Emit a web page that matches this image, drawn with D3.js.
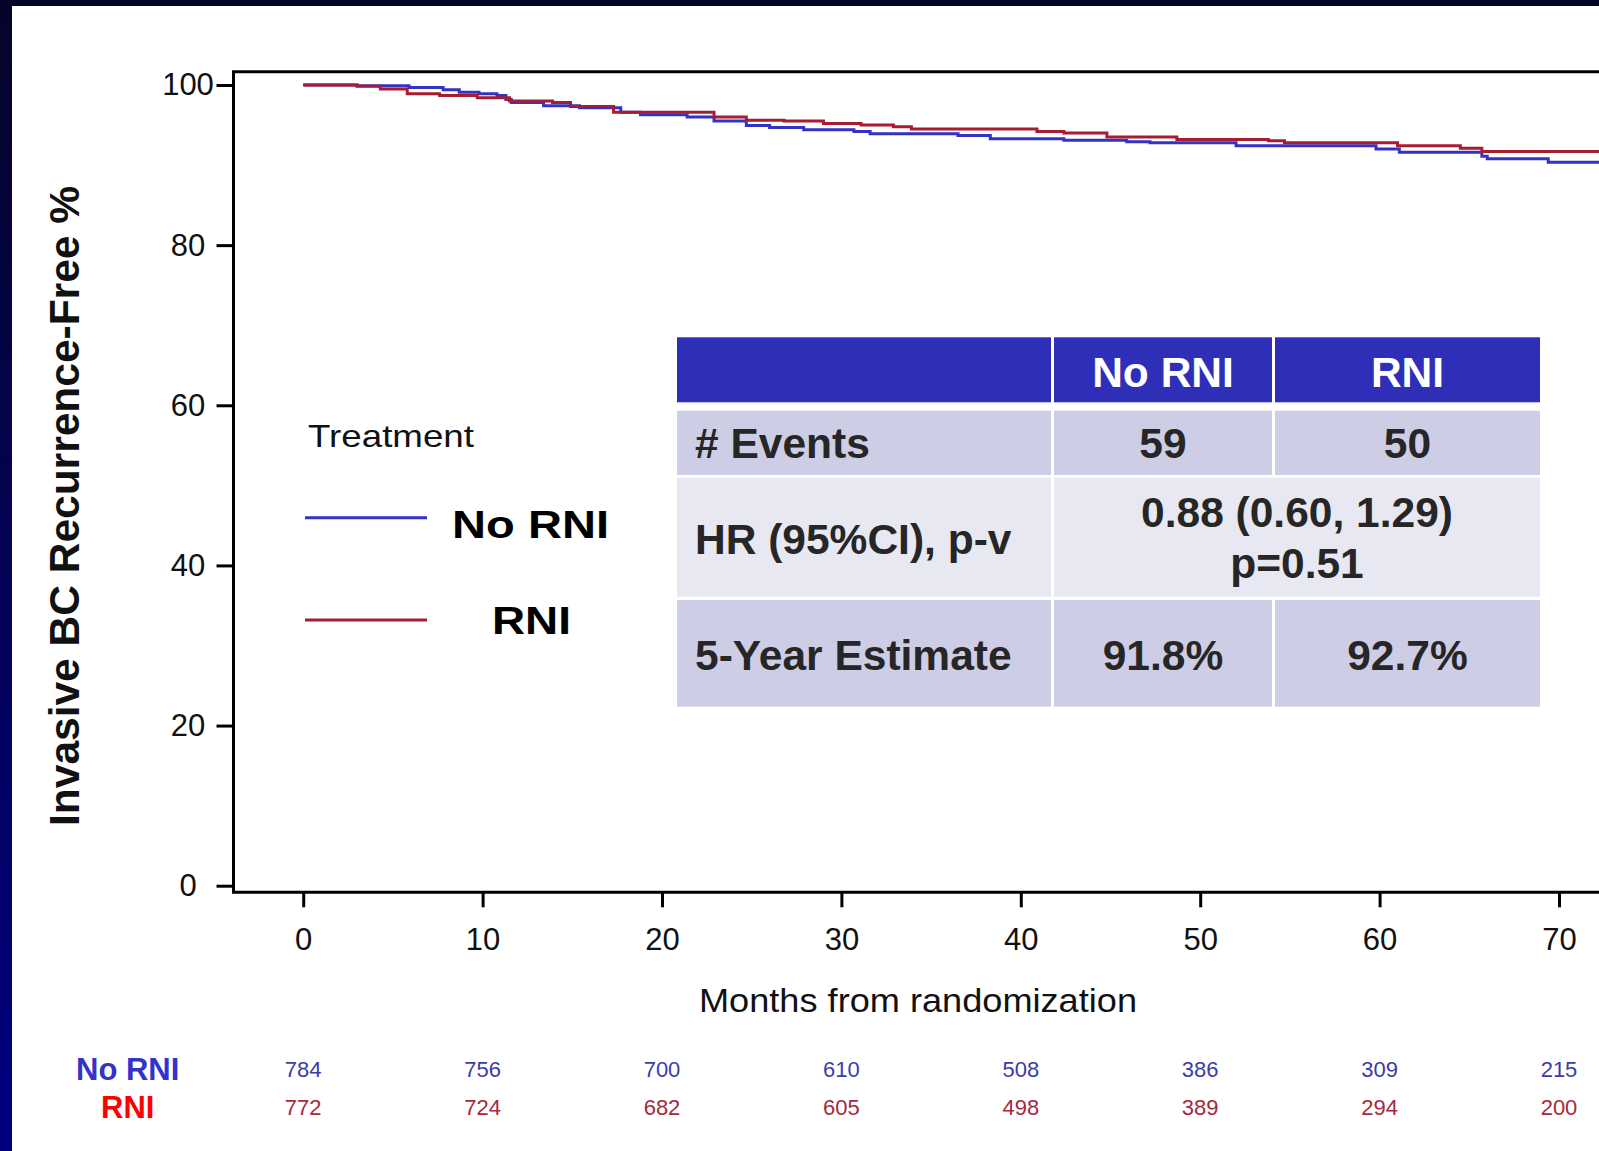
<!DOCTYPE html>
<html>
<head>
<meta charset="utf-8">
<script src="https://cdn.jsdelivr.net/npm/d3@7"></script>
<style>
  body { margin: 0; overflow: hidden; background: #fff; }
  text { font-family: "Liberation Sans", Arial, sans-serif; }
</style>
</head>
<body>
<div id="chart"></div>
<script>
// Kaplan-Meier steps (months, percent)
const monthsNoRni = [0, 3.0, 5.9, 7.8, 8.7, 9.8, 10.8, 11.3, 11.6, 13.4, 15.4, 17.7, 18.8, 21.4, 22.9, 24.7, 26.0, 27.9, 30.7, 31.6, 36.5, 38.3, 42.4, 45.9, 47.2, 52.0, 59.8, 61.1, 65.7, 66.0, 69.4];
const survNoRni   = [100, 99.9, 99.7, 99.4, 99.1, 98.9, 98.7, 98.2, 97.8, 97.4, 97.15, 96.6, 96.3, 96.0, 95.5, 94.95, 94.7, 94.4, 94.2, 93.9, 93.7, 93.3, 93.1, 92.9, 92.8, 92.4, 92.0, 91.6, 91.1, 90.8, 90.35];

const monthsRni = [0, 3.0, 4.3, 5.8, 7.6, 9.7, 11.5, 13.9, 14.9, 17.3, 22.9, 24.7, 26.8, 29.0, 31.1, 32.9, 33.9, 40.9, 42.4, 44.8, 48.7, 53.8, 54.7, 61.0, 64.5, 65.7];
const survRni   = [100, 99.83, 99.5, 98.9, 98.7, 98.4, 98.0, 97.8, 97.3, 96.6, 96.0, 95.6, 95.5, 95.2, 95.0, 94.8, 94.5, 94.2, 94.0, 93.5, 93.2, 93.05, 92.8, 92.4, 92.1, 91.7];

const xTicks = [0, 10, 20, 30, 40, 50, 60, 70];
const yTicks = [0, 20, 40, 60, 80, 100];
const lastMonth = 73;

const riskMonths = [0, 10, 20, 30, 40, 50, 60, 70];
const atRiskNoRni = [784, 756, 700, 610, 508, 386, 309, 215];
const atRiskRni = [772, 724, 682, 605, 498, 389, 294, 200];

const groups = ['No RNI', 'RNI'];
const tableHeader = ['', 'No RNI', 'RNI'];
const tableEvents = ['# Events', '59', '50'];
const tableHr = ['HR (95%CI), p-v', '0.88 (0.60, 1.29)', 'p=0.51'];
const tableEstimate = ['5-Year Estimate', '91.8%', '92.7%'];

const blue = '#3232c4';
const red = '#a81c32';

const svg = d3.select('#chart').append('svg')
  .attr('width', 1599)
  .attr('height', 1151);

// slide background
const grad = svg.append('defs').append('linearGradient')
  .attr('id', 'bg').attr('x1', 0).attr('y1', 0).attr('x2', 0).attr('y2', 1);
grad.append('stop').attr('offset', '0%').attr('stop-color', '#05052a');
grad.append('stop').attr('offset', '100%').attr('stop-color', '#000080');
svg.append('rect').attr('width', 1599).attr('height', 1151).attr('fill', 'url(#bg)');
svg.append('rect').attr('x', 12).attr('y', 6).attr('width', 1599).attr('height', 1151).attr('fill', '#fff');

const x = d3.scaleLinear([0, 70], [303.2, 1559]);
const y = d3.scaleLinear([0, 100], [885.7, 85]);

// frame
const frameLeft = 233.5, frameTop = 71.7, frameBottom = 892.3;
svg.append('path')
  .attr('d', `M1640,${frameTop}H${frameLeft}V${frameBottom}H1640`)
  .attr('fill', 'none')
  .attr('stroke', '#000')
  .attr('stroke-width', 3);

// y axis
const yAxis = svg.append('g')
  .attr('transform', `translate(${frameLeft},0)`)
  .call(d3.axisLeft(y).tickValues(yTicks).tickSize(17));
yAxis.select('.domain').remove();
yAxis.selectAll('.tick line').attr('stroke-width', 3);
yAxis.selectAll('.tick text')
  .attr('x', -45.5)
  .attr('text-anchor', 'middle')
  .attr('font-size', 31)
  .attr('font-family', '"Liberation Sans", Arial, sans-serif')
  .attr('fill', '#111');

// x axis
const xAxis = svg.append('g')
  .attr('transform', `translate(0,${frameBottom})`)
  .call(d3.axisBottom(x).tickValues(xTicks).tickSize(15));
xAxis.select('.domain').remove();
xAxis.selectAll('.tick line').attr('stroke-width', 3);
xAxis.selectAll('.tick text')
  .attr('y', 57.7)
  .attr('dy', 0)
  .attr('font-size', 31)
  .attr('font-family', '"Liberation Sans", Arial, sans-serif')
  .attr('fill', '#111');

// axis titles
svg.append('text')
  .attr('transform', 'translate(79,506) rotate(-90)')
  .attr('text-anchor', 'middle')
  .attr('font-size', 42)
  .attr('font-weight', 'bold')
  .attr('textLength', 640)
  .attr('lengthAdjust', 'spacingAndGlyphs')
  .attr('fill', '#111')
  .text('Invasive BC Recurrence-Free %');

svg.append('text')
  .attr('x', 918)
  .attr('y', 1012)
  .attr('text-anchor', 'middle')
  .attr('font-size', 34)
  .attr('textLength', 438)
  .attr('lengthAdjust', 'spacingAndGlyphs')
  .attr('fill', '#111')
  .text('Months from randomization');

// curves
const line = d3.line()
  .x(d => x(d[0]))
  .y(d => y(d[1]))
  .curve(d3.curveStepAfter);

const series = [
  { months: monthsNoRni, surv: survNoRni, color: blue },
  { months: monthsRni, surv: survRni, color: red }
];
series.forEach(s => {
  const pts = s.months.map((m, i) => [m, s.surv[i]]);
  pts.push([lastMonth, s.surv[s.surv.length - 1]]);
  svg.append('path')
    .datum(pts)
    .attr('d', line)
    .attr('fill', 'none')
    .attr('stroke', s.color)
    .attr('stroke-width', 3);
});

// legend
svg.append('text')
  .attr('x', 308).attr('y', 446.7)
  .attr('font-size', 32)
  .attr('textLength', 166)
  .attr('lengthAdjust', 'spacingAndGlyphs')
  .attr('fill', '#111')
  .text('Treatment');

const legendRows = [
  { label: groups[0], color: blue, lineY: 517.7, textX: 452, textY: 538, len: 157 },
  { label: groups[1], color: red, lineY: 620, textX: 492, textY: 634, len: 79 }
];
legendRows.forEach(r => {
  svg.append('line')
    .attr('x1', 305).attr('x2', 427)
    .attr('y1', r.lineY).attr('y2', r.lineY)
    .attr('stroke', r.color)
    .attr('stroke-width', 3);
  svg.append('text')
    .attr('x', r.textX).attr('y', r.textY)
    .attr('font-size', 38)
    .attr('font-weight', 'bold')
    .attr('textLength', r.len)
    .attr('lengthAdjust', 'spacingAndGlyphs')
    .attr('fill', '#000')
    .text(r.label);
});

// summary table
const cols = [[677, 1051], [1054, 1272], [1275, 1540]];
const rows = [[337.3, 402.3], [410.7, 475], [477.7, 596.7], [600, 706.7]];
const table = svg.append('g');

function cell(c0, c1, r, fill) {
  table.append('rect')
    .attr('x', cols[c0][0])
    .attr('y', rows[r][0])
    .attr('width', cols[c1][1] - cols[c0][0])
    .attr('height', rows[r][1] - rows[r][0])
    .attr('fill', fill);
}
function cellText(c0, c1, baseline, str, opts) {
  const t = table.append('text')
    .attr('y', baseline)
    .attr('font-size', opts.size)
    .attr('font-weight', 'bold')
    .attr('fill', opts.color)
    .text(str);
  if (opts.left) {
    t.attr('x', cols[c0][0] + 18);
  } else {
    t.attr('x', (cols[c0][0] + cols[c1][1]) / 2).attr('text-anchor', 'middle');
  }
}

const dark = '#262626';
const headBlue = '#2e2eb8';
const shade1 = '#cdcde5';
const shade2 = '#e8e8f2';
const valSize = 42.5;

[0, 1, 2].forEach(c => cell(c, c, 0, headBlue));
tableHeader.forEach((h, c) => { if (h) cellText(c, c, 387.3, h, { size: valSize, color: '#fff' }); });

[0, 1, 2].forEach(c => cell(c, c, 1, shade1));
cellText(0, 0, 458.3, tableEvents[0], { size: 42.5, color: dark, left: true });
cellText(1, 1, 458.3, tableEvents[1], { size: valSize, color: dark });
cellText(2, 2, 458.3, tableEvents[2], { size: valSize, color: dark });

cell(0, 0, 2, shade2);
cell(1, 2, 2, shade2);
cellText(0, 0, 554, tableHr[0], { size: 42.5, color: dark, left: true });
cellText(1, 2, 526.7, tableHr[1], { size: valSize, color: dark });
cellText(1, 2, 578, tableHr[2], { size: valSize, color: dark });

[0, 1, 2].forEach(c => cell(c, c, 3, shade1));
cellText(0, 0, 670, tableEstimate[0], { size: 42.5, color: dark, left: true });
cellText(1, 1, 670, tableEstimate[1], { size: valSize, color: dark });
cellText(2, 2, 670, tableEstimate[2], { size: valSize, color: dark });

// numbers at risk
const riskRows = [
  { label: groups[0], labelColor: '#3333cc', numColor: '#3c3ca8', values: atRiskNoRni, labelY: 1080, numY: 1076.7 },
  { label: groups[1], labelColor: '#ff0000', numColor: '#a8283c', values: atRiskRni, labelY: 1118.3, numY: 1115 }
];
riskRows.forEach(r => {
  svg.append('text')
    .attr('x', 127.7).attr('y', r.labelY)
    .attr('text-anchor', 'middle')
    .attr('font-size', 31)
    .attr('font-weight', 'bold')
    .attr('fill', r.labelColor)
    .text(r.label);
  svg.append('g').selectAll('text')
    .data(riskMonths)
    .join('text')
      .attr('x', d => x(d))
      .attr('y', r.numY)
      .attr('text-anchor', 'middle')
      .attr('font-size', 22)
      .attr('fill', r.numColor)
      .text((d, i) => r.values[i]);
});
</script>
</body>
</html>
